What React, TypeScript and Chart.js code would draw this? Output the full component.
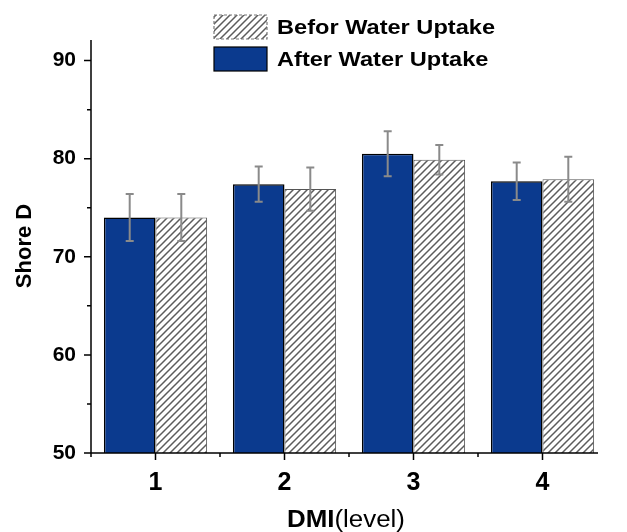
import React, { useEffect, useRef } from 'react';
import { Chart, registerables } from 'chart.js';

Chart.register(...registerables);

const categories = ['1', '2', '3', '4'];
const afterLabel = 'After Water Uptake';
const beforeLabel = 'Befor Water Uptake';
const afterValues = [74.0, 77.4, 80.5, 77.7];
const afterErrors = [2.4, 1.8, 2.3, 1.9];
const beforeValues = [74.0, 76.9, 79.9, 77.9];
const beforeErrors = [2.4, 2.2, 1.5, 2.3];
const yMin = 50;
const yMax = 92.1;
const yMajorTicks = [50, 60, 70, 80, 90];
const yMinorTicks = [55, 65, 75, 85];
const yTitle = 'Shore D';
const xTitleBold = 'DMI';
const xTitleRest = '(level)';

const FONT = '"Liberation Sans", Arial, sans-serif';
const BLUE = '#0b3a8e';

function makeHatch(): CanvasPattern | string {
  const p = 7;
  const c = document.createElement('canvas');
  c.width = p;
  c.height = p;
  const g = c.getContext('2d');
  if (!g) return '#ccc';
  g.fillStyle = '#ffffff';
  g.fillRect(0, 0, p, p);
  g.strokeStyle = '#5c5c5c';
  g.lineWidth = 1.5;
  g.beginPath();
  g.moveTo(0, p);
  g.lineTo(p, 0);
  g.moveTo(-1, 1);
  g.lineTo(1, -1);
  g.moveTo(p - 1, p + 1);
  g.lineTo(p + 1, p - 1);
  g.stroke();
  return g.createPattern(c, 'repeat') || '#ccc';
}

export default function App() {
  const ref = useRef<HTMLCanvasElement | null>(null);

  useEffect(() => {
    if (!ref.current) return;
    const hatch = makeHatch();
    const errors = [afterErrors, beforeErrors];

    const decor = {
      id: 'decor',
      afterDatasetsDraw(chart: any) {
        const ctx = chart.ctx;
        const ys = chart.scales.y;
        ctx.save();
        ctx.strokeStyle = '#8a8a8a';
        ctx.lineWidth = 2;
        chart.data.datasets.forEach((ds: any, i: number) => {
          const meta = chart.getDatasetMeta(i);
          meta.data.forEach((el: any, j: number) => {
            const v = ds.data[j];
            const e = errors[i][j];
            const x = el.x;
            const yt = ys.getPixelForValue(v + e);
            const yb = ys.getPixelForValue(v - e);
            ctx.beginPath();
            ctx.moveTo(x, yt);
            ctx.lineTo(x, yb);
            ctx.moveTo(x - 4, yt);
            ctx.lineTo(x + 4, yt);
            ctx.moveTo(x - 4, yb);
            ctx.lineTo(x + 4, yb);
            ctx.stroke();
          });
        });
        ctx.restore();
      },
      afterDraw(chart: any) {
        const ctx = chart.ctx;
        const ys = chart.scales.y;
        const xs = chart.scales.x;
        const area = chart.chartArea;
        ctx.save();
        ctx.strokeStyle = '#000';
        ctx.lineWidth = 1.5;
        // axes
        ctx.beginPath();
        ctx.moveTo(area.left, area.top);
        ctx.lineTo(area.left, area.bottom + 4);
        ctx.moveTo(area.left - 7, area.bottom);
        ctx.lineTo(598, area.bottom);
        yMajorTicks.forEach((t) => {
          const y = ys.getPixelForValue(t);
          ctx.moveTo(area.left - 7, y);
          ctx.lineTo(area.left, y);
        });
        yMinorTicks.forEach((t) => {
          const y = ys.getPixelForValue(t);
          ctx.moveTo(area.left - 4, y);
          ctx.lineTo(area.left, y);
        });
        categories.forEach((_c, i) => {
          const x = xs.getPixelForValue(i);
          ctx.moveTo(x, area.bottom);
          ctx.lineTo(x, area.bottom + 7);
          if (i < categories.length - 1) {
            const xm = xs.getPixelForValue(i + 0.5);
            ctx.moveTo(xm, area.bottom);
            ctx.lineTo(xm, area.bottom + 4);
          }
        });
        ctx.stroke();

        // y title
        ctx.fillStyle = '#000';
        ctx.font = `bold 22px ${FONT}`;
        ctx.textAlign = 'center';
        ctx.textBaseline = 'middle';
        ctx.save();
        ctx.translate(25, 246);
        ctx.rotate(-Math.PI / 2);
        ctx.fillText(yTitle, 0, 0);
        ctx.restore();

        // x title (horizontally stretched to match the reference)
        ctx.textBaseline = 'alphabetic';
        ctx.textAlign = 'left';
        ctx.font = `bold 23px ${FONT}`;
        const w1 = ctx.measureText(xTitleBold).width;
        ctx.font = `23px ${FONT}`;
        const w2 = ctx.measureText(xTitleRest).width;
        const targetW = 118;
        const sx = targetW / (w1 + w2);
        ctx.save();
        ctx.translate(346 - targetW / 2, 527);
        ctx.scale(sx, 1);
        ctx.font = `bold 23px ${FONT}`;
        ctx.fillText(xTitleBold, 0, 0);
        ctx.font = `23px ${FONT}`;
        ctx.fillText(xTitleRest, w1, 0);
        ctx.restore();

        // legend
        const items = [
          { label: beforeLabel, fill: chart.data.datasets[1].backgroundColor, border: '#777', dash: true, y: 15 },
          { label: afterLabel, fill: chart.data.datasets[0].backgroundColor, border: '#000', dash: false, y: 47 },
        ];
        ctx.font = `bold 21px ${FONT}`;
        const legSx = 218 / ctx.measureText(beforeLabel).width;
        items.forEach((it) => {
          ctx.fillStyle = it.fill;
          ctx.fillRect(214, it.y, 53, 24);
          ctx.strokeStyle = it.border;
          ctx.lineWidth = 1.2;
          ctx.setLineDash(it.dash ? [3, 2] : []);
          ctx.strokeRect(214, it.y, 53, 24);
          ctx.setLineDash([]);
          ctx.fillStyle = '#000';
          ctx.font = `bold 21px ${FONT}`;
          ctx.textBaseline = 'middle';
          ctx.textAlign = 'left';
          ctx.save();
          ctx.translate(277, it.y + 13);
          ctx.scale(legSx, 1);
          ctx.fillText(it.label, 0, 0);
          ctx.restore();
        });
        ctx.restore();
      },
    };

    const chart = new Chart(ref.current, {
      type: 'bar',
      data: {
        labels: categories,
        datasets: [
          {
            label: afterLabel,
            data: afterValues,
            backgroundColor: BLUE,
            borderColor: '#000',
            borderWidth: 1.5,
            categoryPercentage: 0.8,
            barPercentage: 1.0,
          },
          {
            label: beforeLabel,
            data: beforeValues,
            backgroundColor: hatch as any,
            borderColor: '#555',
            borderWidth: 1,
            categoryPercentage: 0.8,
            barPercentage: 1.0,
          },
        ],
      },
      options: {
        animation: false,
        responsive: false,
        maintainAspectRatio: false,
        layout: { padding: { top: 40, right: 20, left: 0, bottom: 0 } },
        plugins: {
          legend: { display: false },
          tooltip: { enabled: false },
        },
        scales: {
          x: {
            type: 'category',
            offset: true,
            grid: { display: false },
            border: { display: false },
            ticks: {
              color: '#000',
              font: { family: FONT, size: 25, weight: 'bold' },
              padding: 7,
              maxRotation: 0,
            },
            afterFit(scale: any) {
              scale.height = 79;
            },
          },
          y: {
            min: yMin,
            max: yMax,
            grid: { display: false },
            border: { display: false },
            afterBuildTicks(scale: any) {
              scale.ticks = yMajorTicks.map((v) => ({ value: v }));
            },
            ticks: {
              color: '#000',
              font: { family: FONT, size: 21, weight: 'bold' },
              padding: 7,
            },
            afterFit(scale: any) {
              scale.width = 91;
            },
          },
        },
      },
      plugins: [decor],
    });
    return () => chart.destroy();
  }, []);

  return (
    <div style={{ position: 'fixed', left: 0, top: 0, width: 627, height: 532, background: '#fff' }}>
      <canvas ref={ref} width={627} height={532} style={{ width: 627, height: 532, display: 'block' }} />
    </div>
  );
}
